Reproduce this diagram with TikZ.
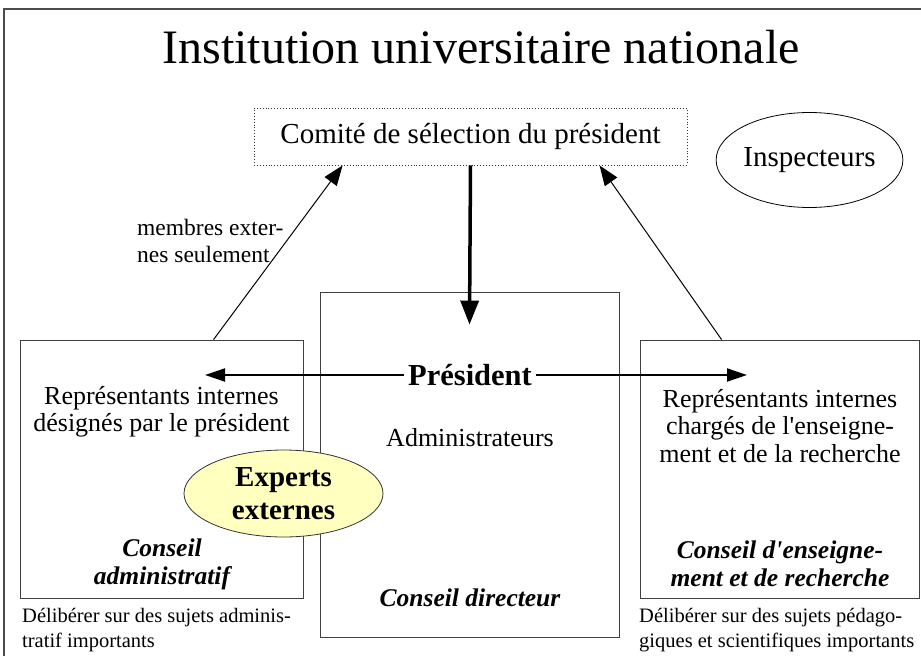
\documentclass[tikz,border=0pt]{standalone}
\usepackage{fontspec}
\setmainfont{Liberation Serif}
\usetikzlibrary{shapes.geometric,arrows.meta}
\definecolor{expfill}{HTML}{FFFFC0}
\tikzset{
  txt/.style={inner sep=0pt, align=center, font=\fontsize{26}{27.5}\selectfont},
  boxx/.style={draw=black!75, line width=0.9pt, inner sep=0pt},
  bi/.style={inner sep=0pt, align=center, font=\fontsize{25.5}{28}\selectfont\bfseries\itshape},
  small/.style={inner sep=0pt, align=left, anchor=north west, font=\fontsize{20.5}{25}\selectfont},
  thin arrow/.style={line width=1pt, -{Triangle[length=20pt,width=15pt]}},
  pres arrow/.style={line width=2pt, -{Triangle[length=20pt,width=13pt]}},
}
\begin{document}
\begin{tikzpicture}[x=1pt,y=-1pt]
\useasboundingbox (0,0) rectangle (921,656);
\draw[black!70, line width=1.5pt] (4,656) -- (4,9) -- (921,9);

\node[inner sep=0pt, font=\fontsize{48}{54}\selectfont] (title) at (481,47) {Institution universitaire nationale};

\node[draw=black!80, dotted, line width=0.9pt, minimum width=433pt, minimum height=57pt, inner sep=0pt,
      font=\fontsize{29}{32}\selectfont] (com) at (470.5,136.5) {Comité de sélection du président};

\node[draw=black, line width=0.8pt, ellipse, minimum width=163pt, minimum height=95pt, inner sep=0pt,
      font=\fontsize{29}{32}\selectfont] (insp) at (809.5,160) {Inspecteurs};

\node[boxx, minimum width=283pt, minimum height=258pt] (lbox) at (161.5,469) {};
\node[boxx, minimum width=299pt, minimum height=345pt] (cbox) at (469.5,464.5) {};
\node[boxx, minimum width=279pt, minimum height=258pt] (rbox) at (779.5,469) {};

\draw[thin arrow] ([xshift=194pt]lbox.north west) -- ([xshift=89pt]com.south west);
\draw[thin arrow] ([xshift=82pt]rbox.north west) -- ([xshift=346pt]com.south west);
\draw[line width=3.5pt, -{Triangle[length=24pt,width=18pt]}] (com.south) -- ([yshift=-33pt]cbox.north);

\node[inner sep=4pt, font=\fontsize{30.5}{33}\selectfont\bfseries] (pres) at (470,375) {Président};
\coordinate (pl) at (205,375);
\coordinate (pr) at (747,375);
\draw[pres arrow] (pres.west) -- (pl);
\draw[pres arrow] (pres.east) -- (pr);

\node[txt] (lrep) at (161.5,412) {Représentants internes\\désignés par le président};
\node[txt] (admin) at (470,438) {Administrateurs};
\node[txt] (rrep) at (780,426) {Représentants internes\\chargés de l\textquotesingle enseigne-\\ment et de la recherche};

\node[draw=black!80, line width=0.8pt, fill=expfill, ellipse, minimum width=199pt, minimum height=87pt, inner sep=0pt,
      align=center, font=\fontsize{29}{33}\selectfont\bfseries] (exp) at (283.5,493.5) {Experts\\externes};

\node[bi] (cadm) at (162,564) {Conseil\\administratif};
\node[bi] (cdir) at (470,598) {Conseil directeur};
\node[bi] (cens) at (780,564) {Conseil d\textquotesingle enseigne-\\ment et de recherche};

\node[small] (dadm) at (22,608) {Délibérer sur des sujets adminis-\\tratif importants};
\node[small] (dens) at (639,608) {Délibérer sur des sujets pédago-\\giques et scientifiques importants};

\node[inner sep=0pt, align=left, anchor=north west, font=\fontsize{23.5}{27}\selectfont] (memb) at (137,219) {membres exter-\\nes seulement};
\end{tikzpicture}
\end{document}
